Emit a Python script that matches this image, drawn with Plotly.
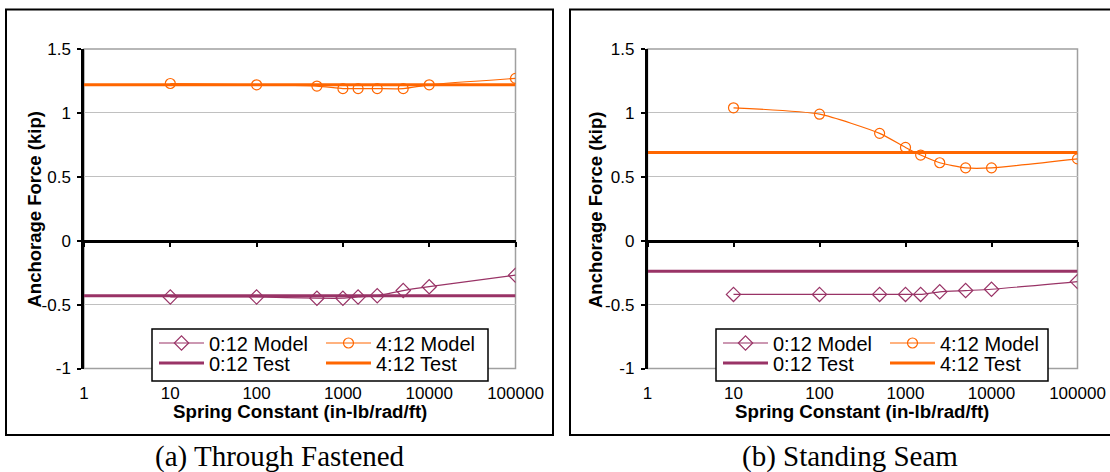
import plotly.graph_objects as go

# Spring constant values at which the models were evaluated (in-lb/rad/ft)
spring_k = [10, 100, 500, 1000, 1500, 2500, 5000, 10000, 100000]

# (a) Through fastened panels
tf_model_0_12 = [-0.44, -0.44, -0.45, -0.45, -0.44, -0.43, -0.39, -0.36, -0.27]
tf_model_4_12 = [1.23, 1.22, 1.21, 1.19, 1.19, 1.19, 1.19, 1.22, 1.27]
tf_test_0_12 = -0.43
tf_test_4_12 = 1.22

# (b) Standing seam panels
ss_model_0_12 = [-0.42, -0.42, -0.42, -0.42, -0.42, -0.40, -0.39, -0.38, -0.32]
ss_model_4_12 = [1.04, 0.99, 0.84, 0.73, 0.67, 0.61, 0.57, 0.57, 0.64]
ss_test_0_12 = -0.24
ss_test_4_12 = 0.69

x_span = [1, 100000]
x_tickvals = [1, 10, 100, 1000, 10000, 100000]
x_ticktext = ["1", "10", "100", "1000", "10000", "100000"]
y_tickvals = [-1, -0.5, 0, 0.5, 1, 1.5]
y_ticktext = ["-1", "-0.5", "0", "0.5", "1", "1.5"]

captions = ["(a) Through Fastened", "(b) Standing Seam"]
x_title = "Spring Constant (in-lb/rad/ft)"
y_title = "Anchorage Force (kip)"

W, H = 1110, 472
PURPLE = "#993366"
ORANGE = "#FF6600"
GRID = "#c0c0c0"
BORDER = "#a0a0a0"
SANS = "Liberation Sans, Arial, sans-serif"
SERIF = "Liberation Serif, Times New Roman, serif"


def px(v):
    return v / W


def py(v):
    return 1 - v / H


Y_LO, Y_HI = -1.0, 1.5
plot_top, plot_bot = 49, 368.5
ydom = [py(plot_bot), py(plot_top)]
zero_pos = ydom[0] + (0 - Y_LO) / (Y_HI - Y_LO) * (ydom[1] - ydom[0])

panels = [
    dict(xdom=[px(84), px(515.5)], model012=tf_model_0_12, model412=tf_model_4_12,
         test012=tf_test_0_12, test412=tf_test_4_12, box=[6, 553],
         legx=152, legw=336, ytitle_x=34.5, cap_x=279.5),
    dict(xdom=[px(647.5), px(1077.5)], model012=ss_model_0_12, model412=ss_model_4_12,
         test012=ss_test_0_12, test412=ss_test_4_12, box=[570, 1113],
         legx=716, legw=332, ytitle_x=596, cap_x=849.5),
]

fig = go.Figure()
layout = {}
shapes = []
annotations = []

for i, p in enumerate(panels):
    xa = "x" if i == 0 else "x2"
    ya = "y" if i == 0 else "y2"
    xa_name = "xaxis" if i == 0 else "xaxis2"
    ya_name = "yaxis" if i == 0 else "yaxis2"
    ov = "x3" if i == 0 else "x4"
    ov_name = "xaxis3" if i == 0 else "xaxis4"
    leg_top = "legend" if i == 0 else "legend3"
    leg_bot = "legend2" if i == 0 else "legend4"

    # horizontal test lines
    fig.add_trace(go.Scatter(
        x=x_span, y=[p["test012"]] * 2, mode="lines", name="0:12 Test",
        line=dict(color=PURPLE, width=3), xaxis=xa, yaxis=ya, legend=leg_bot))
    fig.add_trace(go.Scatter(
        x=x_span, y=[p["test412"]] * 2, mode="lines", name="4:12 Test",
        line=dict(color=ORANGE, width=3), xaxis=xa, yaxis=ya, legend=leg_bot))
    # model curves
    fig.add_trace(go.Scatter(
        x=spring_k, y=p["model012"], mode="lines+markers", name="0:12 Model",
        line=dict(color=PURPLE, width=1.2, shape="spline", smoothing=0.6),
        marker=dict(symbol="diamond-open", size=11, color=PURPLE, line=dict(width=1.2)),
        xaxis=xa, yaxis=ya, legend=leg_top))
    fig.add_trace(go.Scatter(
        x=spring_k, y=p["model412"], mode="lines+markers", name="4:12 Model",
        line=dict(color=ORANGE, width=1.2, shape="spline", smoothing=0.6),
        marker=dict(symbol="circle-open", size=10, color=ORANGE, line=dict(width=1.2)),
        xaxis=xa, yaxis=ya, legend=leg_top))
    # helper trace so the zero-crossing axis is drawn
    fig.add_trace(go.Scatter(x=[], y=[], xaxis=ov, yaxis=ya, showlegend=False,
                             hoverinfo="skip"))

    layout[xa_name] = dict(
        domain=p["xdom"], type="log", range=[0, 5], anchor=ya, automargin=False,
        showgrid=False, showline=False, zeroline=False,
        tickvals=x_tickvals, ticktext=x_ticktext,
        ticks="outside", ticklen=9, tickcolor="rgba(0,0,0,0)",
        tickfont=dict(family=SANS, size=17, color="black"))
    layout[ov_name] = dict(
        overlaying=xa, anchor="free", position=zero_pos, type="log", range=[0, 5],
        automargin=False,
        showgrid=False, zeroline=False, showline=True, linecolor="black", linewidth=2.5,
        tickvals=x_tickvals, ticks="outside", ticklen=5, tickwidth=2, tickcolor="black",
        showticklabels=False)
    layout[ya_name] = dict(
        domain=ydom, range=[Y_LO, Y_HI], anchor=xa, automargin=False,
        showgrid=True, gridcolor=GRID, gridwidth=1, zeroline=False,
        showline=True, linecolor="black", linewidth=2.5,
        tickvals=y_tickvals, ticktext=y_ticktext,
        ticks="outside", ticklen=4, tickwidth=2, tickcolor="black",
        ticklabelstandoff=3,
        tickfont=dict(family=SANS, size=17, color="black"))

    # plot-area frame
    shapes.append(dict(type="rect", xref=f"{xa} domain", yref=f"{ya} domain",
                       x0=0, x1=1, y0=0, y1=1, line=dict(color=BORDER, width=1.5),
                       layer="below"))
    # outer chart frame
    shapes.append(dict(type="rect", xref="paper", yref="paper",
                       x0=px(p["box"][0]), x1=px(p["box"][1]), y0=py(435), y1=py(9.5),
                       line=dict(color="black", width=2)))
    # legend frame
    shapes.append(dict(type="rect", xref="paper", yref="paper",
                       x0=px(p["legx"]), x1=px(p["legx"] + p["legw"]), y0=py(381), y1=py(329),
                       line=dict(color="black", width=1.5), fillcolor="white", layer="above"))

    for name, yc in [(leg_top, 343), (leg_bot, 363)]:
        layout[name] = dict(
            x=px(p["legx"] + 2), y=py(yc), xanchor="left", yanchor="middle",
            orientation="h", entrywidth=107, entrywidthmode="pixels",
            itemwidth=45, bgcolor="rgba(0,0,0,0)", borderwidth=0,
            font=dict(family=SANS, size=20, color="black"),
            traceorder="normal", tracegroupgap=0)

    cx = (p["xdom"][0] + p["xdom"][1]) / 2
    annotations.append(dict(text=f"<b>{x_title}</b>", xref="paper", yref="paper",
                            x=cx, y=py(411), xanchor="center", yanchor="middle",
                            showarrow=False, font=dict(family=SANS, size=18.7, color="black")))
    annotations.append(dict(text=f"<b>{y_title}</b>", xref="paper", yref="paper",
                            x=px(p["ytitle_x"]), y=py(210), xanchor="center", yanchor="middle",
                            textangle=-90, showarrow=False,
                            font=dict(family=SANS, size=18.5, color="black")))
    annotations.append(dict(text=captions[i], xref="paper", yref="paper",
                            x=px(p["cap_x"]), y=py(456.5), xanchor="center", yanchor="middle",
                            showarrow=False, font=dict(family=SERIF, size=29, color="black")))

fig.update_layout(
    width=W, height=H, margin=dict(l=0, r=0, t=0, b=0, autoexpand=False),
    paper_bgcolor="white", plot_bgcolor="white",
    shapes=shapes, annotations=annotations, **layout)

fig.write_html("out.html")
